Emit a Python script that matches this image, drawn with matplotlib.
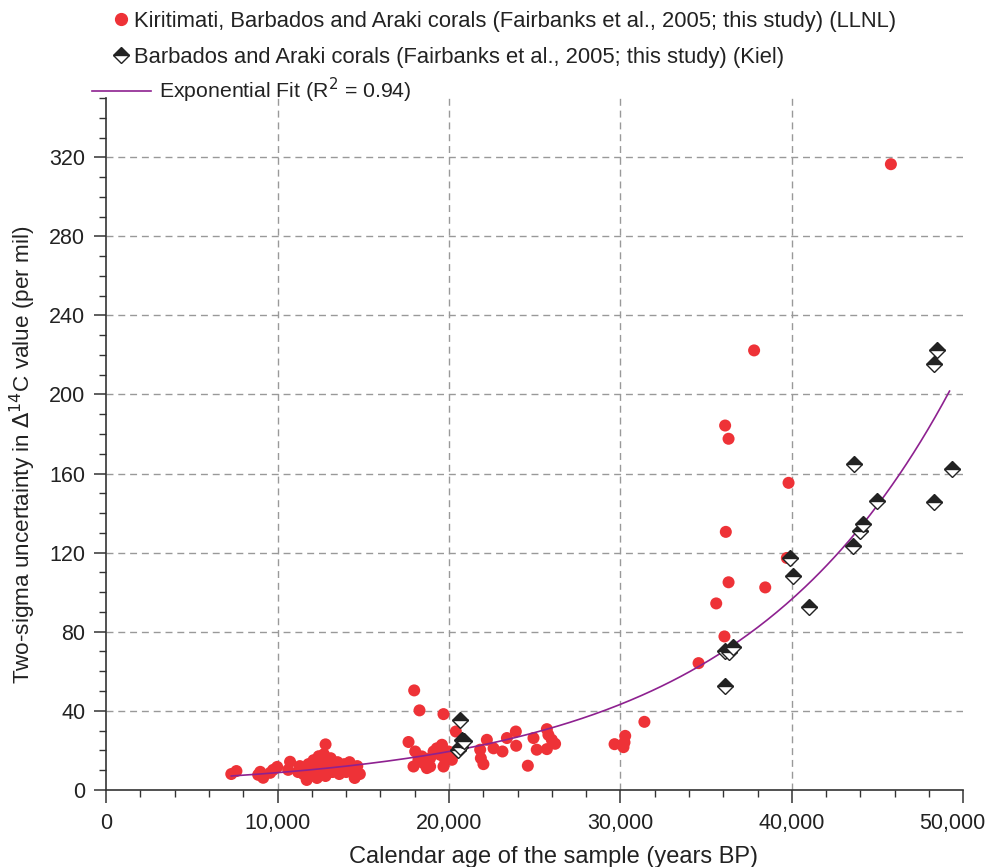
import numpy as np
import matplotlib
matplotlib.use("Agg")
import matplotlib.pyplot as plt
from matplotlib.ticker import MultipleLocator, FuncFormatter
from matplotlib.lines import Line2D
from matplotlib.transforms import ScaledTranslation

plt.rcParams['font.family'] = ['Liberation Sans', 'DejaVu Sans']

# ---- LLNL measurements (Kiritimati, Barbados, Araki) : age (yr BP), 2-sigma (per mil)
llnl_age = [7300, 7600, 8870, 8990, 9160, 9570, 9740, 9980, 10620, 10730,
            11200, 11300, 11500, 11600, 11700, 11800, 11900, 12000, 12100, 12200,
            12300, 12300, 12400, 12500, 12500, 12600, 12700, 12700, 12800, 12800,
            12900, 13000, 13000, 13100, 13200, 13300, 13400, 13500, 13600, 13700,
            13800, 13900, 14000, 14100, 14200, 14300, 14400, 14500, 14600, 14650,
            14800,
            17640, 17930, 17970, 18030, 18220, 18280, 18420, 18510, 18710, 18900,
            18900, 19100, 19290, 19490, 19590, 19680, 19680, 19780, 19970, 20170,
            20400,
            21820, 21860, 22010, 22210, 22600, 23120, 23380, 23900, 23920, 24600,
            24930, 25120, 25710, 25710, 25800, 26000, 26190,
            29660, 30180, 30240, 30280, 31400,
            34560, 35590, 36070, 36110, 36150, 36310, 36310, 37800, 38450, 39710,
            39810, 45780]
llnl_unc = [8.0, 9.5, 7.6, 9.1, 6.1, 8.6, 10.1, 11.6, 10.1, 14.2,
            9, 12, 8, 10, 5, 13, 7, 11, 15, 9,
            12, 6, 17, 8, 14, 10, 18, 12, 23, 7,
            15, 10, 13, 16, 9, 12, 11, 14, 8, 12,
            10, 13, 9, 11, 14, 12, 10, 6, 9, 12,
            8,
            24.2, 11.8, 50.3, 19.4, 15.2, 40.2, 16.9, 13.5, 11.0, 16.0,
            11.8, 19.4, 21.0, 17.7, 22.8, 38.3, 11.8, 15.2, 19.4, 15.2,
            29.5,
            20.3, 16.0, 13.0, 25.3, 21.0, 19.4, 26.2, 29.5, 22.3, 12.2,
            26.2, 20.3, 30.7, 20.6, 27.8, 25.3, 23.3,
            23.1, 21.6, 24.0, 27.3, 34.4,
            64.1, 94.3, 77.6, 184.3, 130.5, 177.6, 105.0, 222.3, 102.4, 117.3,
            155.3, 316.5]

# ---- Kiel measurements (Barbados, Araki)
kiel_age = [20550, 20650, 20650, 20750, 20850,
            36110, 36110, 36310, 36560, 39900, 40060, 41010,
            43560, 43600, 43950, 44140, 44960, 48300, 48300, 48460, 49330]
kiel_unc = [19.9, 21.9, 35.1, 25.3, 24.5,
            52.3, 70.4, 69.5, 72.1, 117.3, 108.4, 92.5,
            123.2, 165.0, 130.8, 134.7, 146.3, 145.5, 215.5, 222.4, 162.4]

# ---- exponential fit y = a * exp(b * age), R^2 = 0.94
fit_a = 3.9
fit_b = 8.02e-5
fit_range = (7300, 49200)

red = '#ee3237'
purple = '#8e2190'
ink = '#222222'
fs = 15.5

fig = plt.figure(figsize=(9.92, 8.67), dpi=100)
ax = fig.add_axes([0.107, 0.089, 0.864, 0.798])

# dashed grid (interior lines only)
for gx in np.arange(10000, 50000, 10000):
    ax.axvline(gx, ls=(0, (5, 3.5)), color='#999999', lw=1.0, zorder=0)
for gy in np.arange(40, 350, 40):
    ax.axhline(gy, ls=(0, (5, 3.5)), color='#999999', lw=1.0, zorder=0)

ax.scatter(llnl_age, llnl_unc, s=75, color=red, edgecolors='none', zorder=3)

xf = np.linspace(fit_range[0], fit_range[1], 300)
ax.plot(xf, fit_a * np.exp(fit_b * xf), color=purple, lw=1.2, zorder=4)

ax.plot(kiel_age, kiel_unc, ls='none', marker='D', ms=8.5, fillstyle='top',
        markerfacecolor=ink, markerfacecoloralt='white',
        markeredgecolor=ink, markeredgewidth=1.0, zorder=5)

ax.set_xlim(0, 50000)
ax.set_ylim(0, 350)
ax.xaxis.set_major_locator(MultipleLocator(10000))
ax.xaxis.set_minor_locator(MultipleLocator(2000))
ax.yaxis.set_major_locator(MultipleLocator(40))
ax.yaxis.set_minor_locator(MultipleLocator(10))
ax.xaxis.set_major_formatter(FuncFormatter(lambda v, p: f'{int(v):,}'))

for s in ['top', 'right']:
    ax.spines[s].set_visible(False)
for s in ['left', 'bottom']:
    ax.spines[s].set_color('#333333')
    ax.spines[s].set_linewidth(1.2)

ax.tick_params(which='major', direction='out', length=9, width=1.1,
               color='#333333', labelsize=fs, labelcolor=ink)
ax.tick_params(which='minor', direction='out', length=5, width=1.0, color='#333333')
ax.tick_params(axis='x', which='major', pad=8)
ax.tick_params(axis='y', which='major', pad=6)

ax.set_xlabel('Calendar age of the sample (years BP)', fontsize=17, color=ink)
ax.set_ylabel('Two-sigma uncertainty in $\\Delta^{14}$C value (per mil)', fontsize=16.2,
              color=ink)
ax.xaxis.set_label_coords(0.5216, -0.0813)
ax.yaxis.set_label_coords(-0.0795, 0.484)

h1 = Line2D([], [], ls='none', marker='o', ms=8.5, color=red)
h2 = Line2D([], [], ls='none', marker='D', ms=8, fillstyle='top',
            markerfacecolor=ink, markerfacecoloralt='white', markeredgecolor=ink)
fig.legend([h1, h2],
           ['Kiritimati, Barbados and Araki corals (Fairbanks et al., 2005; this study) (LLNL)',
            'Barbados and Araki corals (Fairbanks et al., 2005; this study) (Kiel)'],
           loc='upper left', bbox_to_anchor=(0.1154, 0.9875), frameon=False,
           borderpad=0, borderaxespad=0,
           fontsize=15.8, handlelength=0.6, handletextpad=0.3, labelspacing=0.68,
           labelcolor=ink)
h3 = Line2D([], [], color=purple, lw=1.2)
fig.legend([h3], ['Exponential Fit (R$^2$ = 0.94)'], loc='upper left',
           bbox_to_anchor=(0.0927, 0.912), frameon=False, borderpad=0, borderaxespad=0,
           fontsize=15.3, handlelength=2.8, handletextpad=0.37, labelcolor=ink)

# keep the last x tick label inside the figure, as in the original
fig.canvas.draw()
for lab in ax.xaxis.get_majorticklabels():
    if lab.get_text() == '50,000':
        lab.set_transform(lab.get_transform() + ScaledTranslation(-8 / 72, 0, fig.dpi_scale_trans))

fig.savefig('out.png', dpi=100)
